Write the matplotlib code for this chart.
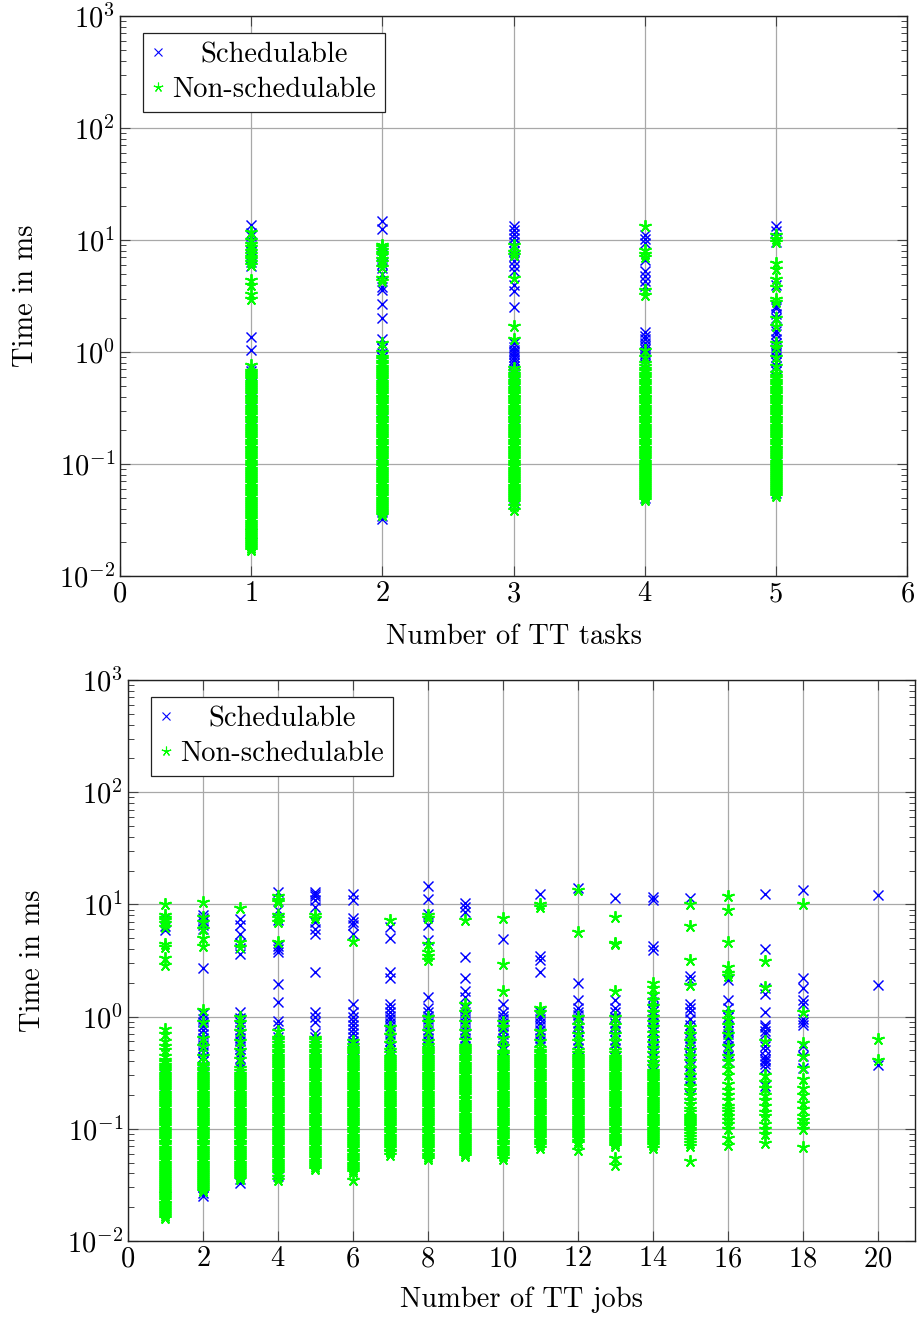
import matplotlib
matplotlib.use("Agg")
import matplotlib.pyplot as plt
from matplotlib.ticker import LogLocator, LogFormatterMathtext, NullFormatter, MultipleLocator
from matplotlib.transforms import Affine2D

plt.rcParams['font.family'] = ['cmr10', 'DejaVu Serif']
plt.rcParams['mathtext.fontset'] = 'cm'
plt.rcParams['axes.formatter.use_mathtext'] = True
plt.rcParams['axes.unicode_minus'] = True

# ---------------- data: top chart (Number of TT tasks) ----------------
top_x = [1, 2, 3, 4, 5]
top_sched = [
    [0.020, 0.022, 0.024, 0.026, 0.028, 0.031, 0.034, 0.045, 0.07, 0.11, 0.17, 0.26, 0.33, 0.38, 0.43, 0.48, 0.52,
     0.57, 0.62, 0.68, 0.72, 1.05, 1.35, 5.9, 6.4, 6.9, 7.3, 7.9, 8.6, 9.4, 10.8, 11.5, 13.6],
    [0.032, 0.034, 0.037, 0.05, 0.08, 0.12, 0.2, 0.3, 0.42, 0.5, 0.56, 0.62, 0.68, 0.75, 0.82, 0.9, 0.97, 1.08,
     1.3, 2.0, 2.7, 3.6, 3.8, 5.0, 5.6, 6.1, 7.0, 7.5, 8.2, 12.5, 14.8],
    [0.045, 0.05, 0.08, 0.15, 0.25, 0.35, 0.45, 0.55, 0.6, 0.65, 0.7, 0.75, 0.8, 0.85, 0.9, 0.95, 1.0, 1.05, 1.1,
     1.2, 2.5, 3.5, 4.0, 5.3, 5.8, 6.5, 7.2, 8.0, 8.8, 9.5, 10.4, 11.2, 12.3, 13.4],
    [0.05, 0.055, 0.1, 0.2, 0.35, 0.5, 0.6, 0.7, 0.78, 0.85, 0.9, 0.95, 1.0, 1.06, 1.12, 1.2, 1.3, 1.4, 1.5, 3.9,
     4.3, 4.8, 5.3, 6.6, 9.4, 10.2, 11.0],
    [0.055, 0.06, 0.1, 0.2, 0.35, 0.5, 0.6, 0.68, 0.75, 0.82, 0.9, 0.97, 1.05, 1.12, 1.2, 1.3, 1.45, 1.55, 2.0,
     2.2, 2.45, 2.6, 4.0, 9.5, 12.0, 13.2],
]
top_nonsched = [
    [0.017, 0.0178, 0.0185, 0.0193, 0.020, 0.0208, 0.0215, 0.0223, 0.023, 0.024, 0.025, 0.026, 0.027, 0.028,
     0.029, 0.0305, 0.032, 0.0335, 0.035, 0.0365, 0.038, 0.0395, 0.041, 0.043, 0.045, 0.047, 0.049, 0.0515, 0.054,
     0.0565, 0.059, 0.0615, 0.064, 0.067, 0.070, 0.073, 0.076, 0.0795, 0.083, 0.087, 0.091, 0.095, 0.10, 0.105,
     0.11, 0.115, 0.12, 0.125, 0.13, 0.135, 0.14, 0.148, 0.155, 0.162, 0.17, 0.178, 0.185, 0.193, 0.2, 0.21, 0.22,
     0.23, 0.24, 0.25, 0.26, 0.272, 0.285, 0.297, 0.31, 0.325, 0.34, 0.355, 0.37, 0.385, 0.40, 0.42, 0.44, 0.46,
     0.48, 0.50, 0.52, 0.545, 0.57, 0.595, 0.62, 0.65, 0.68, 0.77, 2.95, 3.3, 4.0, 4.4, 6.0, 6.4, 6.8, 7.1, 7.5,
     8.0, 8.6, 9.2, 10.1, 11.8],
    [0.035, 0.0365, 0.038, 0.0395, 0.041, 0.043, 0.045, 0.047, 0.049, 0.0515, 0.054, 0.0565, 0.059, 0.0615, 0.064,
     0.067, 0.070, 0.073, 0.076, 0.0795, 0.083, 0.087, 0.091, 0.095, 0.10, 0.105, 0.11, 0.115, 0.12, 0.125, 0.13,
     0.135, 0.14, 0.148, 0.155, 0.162, 0.17, 0.178, 0.185, 0.193, 0.2, 0.21, 0.22, 0.23, 0.24, 0.25, 0.26, 0.272,
     0.285, 0.297, 0.31, 0.325, 0.34, 0.355, 0.37, 0.385, 0.40, 0.42, 0.44, 0.46, 0.48, 0.50, 0.52, 0.545, 0.57,
     0.595, 0.62, 0.65, 0.68, 0.71, 0.74, 0.78, 0.82, 0.86, 0.9, 1.0, 1.2, 4.3, 4.6, 5.7, 6.3, 6.8, 7.3, 7.7, 8.1,
     8.7, 9.1],
    [0.039, 0.042, 0.046, 0.048, 0.05, 0.052, 0.054, 0.0565, 0.059, 0.0615, 0.064, 0.067, 0.070, 0.073, 0.076,
     0.0795, 0.083, 0.087, 0.091, 0.095, 0.10, 0.105, 0.11, 0.115, 0.12, 0.125, 0.13, 0.135, 0.14, 0.148, 0.155,
     0.162, 0.17, 0.178, 0.185, 0.193, 0.2, 0.21, 0.22, 0.23, 0.24, 0.25, 0.26, 0.272, 0.285, 0.297, 0.31, 0.325,
     0.34, 0.355, 0.37, 0.385, 0.40, 0.42, 0.44, 0.46, 0.48, 0.505, 0.53, 0.555, 0.58, 0.61, 0.64, 0.68, 0.72, 1.3,
     1.7, 4.6, 7.4, 7.8, 9.0],
    [0.048, 0.050, 0.052, 0.054, 0.056, 0.0585, 0.061, 0.0635, 0.066, 0.069, 0.072, 0.075, 0.078, 0.0815, 0.085,
     0.0885, 0.092, 0.096, 0.10, 0.105, 0.11, 0.115, 0.12, 0.125, 0.13, 0.135, 0.14, 0.148, 0.155, 0.162, 0.17,
     0.178, 0.185, 0.193, 0.2, 0.21, 0.22, 0.23, 0.24, 0.25, 0.26, 0.272, 0.285, 0.297, 0.31, 0.325, 0.34, 0.355,
     0.37, 0.385, 0.40, 0.42, 0.44, 0.46, 0.48, 0.505, 0.53, 0.555, 0.58, 0.61, 0.64, 0.675, 0.71, 0.75, 0.8, 0.9,
     1.05, 3.2, 3.6, 7.0, 7.5, 8.1, 13.2],
    [0.052, 0.054, 0.056, 0.0585, 0.061, 0.0635, 0.066, 0.069, 0.072, 0.075, 0.078, 0.0815, 0.085, 0.0885, 0.092,
     0.096, 0.10, 0.105, 0.11, 0.115, 0.12, 0.125, 0.13, 0.135, 0.14, 0.148, 0.155, 0.162, 0.17, 0.178, 0.185,
     0.193, 0.2, 0.21, 0.22, 0.23, 0.24, 0.25, 0.26, 0.272, 0.285, 0.297, 0.31, 0.325, 0.34, 0.355, 0.37, 0.385,
     0.40, 0.42, 0.44, 0.46, 0.48, 0.505, 0.53, 0.555, 0.58, 0.615, 0.65, 0.75, 0.9, 1.1, 1.2, 1.7, 2.0, 2.8, 3.0,
     3.8, 4.5, 5.5, 6.2, 9.5, 10.2, 11.0],
]

# ---------------- data: bottom chart (Number of TT jobs) ----------------
bot_x = [1, 2, 3, 4, 5, 6, 7, 8, 9, 10, 11, 12, 13, 14, 15, 16, 17, 18, 20]
bot_sched = [
    [0.024, 0.026, 0.028, 0.031, 0.034, 0.2, 0.3, 5.9, 6.4, 7.0, 7.6],
    [0.025, 0.027, 0.030, 0.36, 0.40, 0.44, 0.48, 0.52, 0.56, 0.60, 0.65, 0.70, 0.76, 0.82, 0.90, 0.96, 1.05, 2.7,
     6.0, 6.6, 7.1, 7.6, 8.1],
    [0.033, 0.036, 0.040, 0.35, 0.39, 0.43, 0.47, 0.51, 0.55, 0.60, 0.65, 0.70, 0.76, 0.82, 0.90, 0.98, 1.1, 3.6,
     4.1, 4.5, 5.5, 6.5, 7.4],
    [0.038, 0.041, 0.045, 0.30, 0.33, 0.37, 0.41, 0.45, 0.5, 0.55, 0.6, 0.66, 0.72, 0.85, 0.92, 1.35, 1.95, 3.8,
     4.0, 4.3, 7.3, 9.0, 13.0],
    [0.30, 0.35, 0.40, 0.45, 0.50, 0.55, 0.60, 0.66, 0.72, 0.9, 1.0, 1.1, 2.5, 5.5, 6.0, 7.0, 9.5, 11.0, 12.0,
     12.5, 13.0],
    [0.35, 0.39, 0.43, 0.47, 0.51, 0.56, 0.61, 0.66, 0.72, 0.78, 0.85, 0.92, 1.0, 1.1, 1.3, 5.5, 6.5, 7.0, 7.5,
     11.0, 12.5],
    [0.45, 0.5, 0.55, 0.6, 0.65, 0.7, 0.76, 0.82, 0.88, 0.95, 1.02, 1.1, 1.2, 1.3, 2.2, 2.5, 5.0, 6.3],
    [0.5, 0.55, 0.6, 0.65, 0.7, 0.76, 0.82, 0.88, 0.95, 1.02, 1.1, 1.2, 1.5, 4.8, 6.5, 8.2, 11.2, 14.6],
    [0.5, 0.55, 0.6, 0.65, 0.7, 0.76, 0.82, 0.88, 0.95, 1.02, 1.1, 1.2, 1.5, 1.7, 2.2, 3.4, 8.5, 9.5, 10.2],
    [0.5, 0.55, 0.6, 0.65, 0.7, 0.76, 0.82, 0.88, 0.95, 1.02, 1.1, 1.3, 4.9],
    [0.42, 0.46, 0.5, 0.55, 0.6, 0.65, 0.7, 0.76, 0.82, 0.88, 0.95, 1.02, 1.1, 2.5, 3.2, 3.5, 12.3],
    [0.4, 0.44, 0.48, 0.52, 0.57, 0.62, 0.68, 0.74, 0.8, 0.87, 0.95, 1.03, 1.1, 1.2, 1.4, 2.0, 14.0],
    [0.4, 0.44, 0.48, 0.52, 0.57, 0.62, 0.68, 0.74, 0.8, 0.87, 0.95, 1.0, 1.1, 1.2, 1.4, 11.5],
    [0.3, 0.33, 0.36, 0.4, 0.44, 0.48, 0.52, 0.57, 0.62, 0.68, 0.74, 0.8, 0.87, 0.95, 1.03, 1.12, 1.22, 1.35, 1.5,
     3.9, 4.3, 11.0, 11.6],
    [0.2, 0.24, 0.28, 0.32, 0.36, 0.4, 0.45, 0.5, 0.55, 0.6, 0.65, 0.7, 0.78, 0.85, 0.95, 1.1, 1.2, 1.3, 2.1, 2.3,
     11.4],
    [0.4, 0.45, 0.5, 0.55, 0.6, 0.65, 0.7, 0.75, 0.8, 0.9, 1.0, 1.2, 1.4, 2.1],
    [0.24, 0.35, 0.38, 0.4, 0.42, 0.45, 0.5, 0.55, 0.7, 0.75, 0.8, 0.85, 1.1, 1.6, 1.8, 4.0, 12.5],
    [0.35, 0.45, 0.55, 0.85, 0.9, 0.95, 1.3, 1.4, 1.8, 2.2, 13.5],
    [0.37, 1.9, 12.2],
]
bot_nonsched = [
    [0.016, 0.0168, 0.0175, 0.0183, 0.019, 0.0198, 0.0205, 0.0213, 0.022, 0.023, 0.024, 0.025, 0.026, 0.027, 0.028,
     0.029, 0.030, 0.0315, 0.033, 0.0345, 0.036, 0.0375, 0.039, 0.0405, 0.042, 0.044, 0.046, 0.048, 0.050, 0.0525,
     0.055, 0.0575, 0.060, 0.0625, 0.065, 0.068, 0.071, 0.074, 0.077, 0.0805, 0.084, 0.088, 0.092, 0.096, 0.10,
     0.105, 0.11, 0.115, 0.12, 0.125, 0.13, 0.135, 0.14, 0.148, 0.155, 0.162, 0.17, 0.178, 0.185, 0.193, 0.2, 0.21,
     0.22, 0.23, 0.24, 0.25, 0.26, 0.272, 0.285, 0.297, 0.31, 0.325, 0.34, 0.355, 0.37, 0.39, 0.41, 0.45, 0.5,
     0.55, 0.6, 0.7, 0.78, 2.9, 3.3, 4.2, 4.4, 6.3, 6.8, 7.2, 7.5, 8.0, 10.0],
    [0.028, 0.029, 0.030, 0.0315, 0.033, 0.0345, 0.036, 0.0375, 0.039, 0.0405, 0.042, 0.044, 0.046, 0.048, 0.050,
     0.0525, 0.055, 0.0575, 0.060, 0.0625, 0.065, 0.068, 0.071, 0.074, 0.077, 0.0805, 0.084, 0.088, 0.092, 0.096,
     0.10, 0.105, 0.11, 0.115, 0.12, 0.125, 0.13, 0.135, 0.14, 0.148, 0.155, 0.162, 0.17, 0.178, 0.185, 0.193,
     0.2, 0.21, 0.22, 0.23, 0.24, 0.25, 0.26, 0.272, 0.285, 0.297, 0.31, 0.325, 0.34, 0.36, 0.38, 0.45, 0.55,
     0.65, 0.9, 1.15, 4.3, 5.0, 6.0, 7.0, 7.8, 10.5],
    [0.036, 0.0375, 0.039, 0.0405, 0.042, 0.044, 0.046, 0.048, 0.050, 0.0525, 0.055, 0.0575, 0.060, 0.0625, 0.065,
     0.068, 0.071, 0.074, 0.077, 0.0805, 0.084, 0.088, 0.092, 0.096, 0.10, 0.105, 0.11, 0.115, 0.12, 0.125, 0.13,
     0.135, 0.14, 0.148, 0.155, 0.162, 0.17, 0.178, 0.185, 0.193, 0.2, 0.21, 0.22, 0.23, 0.24, 0.25, 0.26, 0.272,
     0.285, 0.297, 0.31, 0.33, 0.35, 0.42, 0.5, 0.6, 0.75, 0.9, 1.0, 4.2, 4.6, 9.2],
    [0.035, 0.0375, 0.04, 0.042, 0.044, 0.046, 0.048, 0.050, 0.052, 0.0545, 0.057, 0.0595, 0.062, 0.065, 0.068,
     0.071, 0.074, 0.0775, 0.081, 0.0845, 0.088, 0.092, 0.096, 0.1, 0.105, 0.11, 0.115, 0.12, 0.125, 0.131, 0.137,
     0.143, 0.15, 0.157, 0.163, 0.17, 0.178, 0.186, 0.195, 0.204, 0.213, 0.222, 0.232, 0.243, 0.253, 0.265, 0.276,
     0.288, 0.301, 0.315, 0.33, 0.345, 0.36, 0.375, 0.39, 0.41, 0.43, 0.45, 0.47, 0.495, 0.52, 0.55, 0.58, 0.615,
     0.65, 0.75, 4.6, 7.0, 7.5, 8.0, 10.5, 11.0, 12.0],
    [0.044, 0.046, 0.048, 0.050, 0.052, 0.0545, 0.057, 0.0595, 0.062, 0.065, 0.068, 0.071, 0.074, 0.0775, 0.081,
     0.0845, 0.088, 0.092, 0.096, 0.1, 0.105, 0.11, 0.115, 0.12, 0.125, 0.131, 0.137, 0.143, 0.15, 0.157, 0.163,
     0.17, 0.178, 0.186, 0.195, 0.204, 0.213, 0.222, 0.232, 0.243, 0.253, 0.265, 0.276, 0.288, 0.301, 0.315, 0.33,
     0.345, 0.36, 0.375, 0.39, 0.41, 0.43, 0.45, 0.47, 0.495, 0.52, 0.55, 0.58, 0.615, 0.65, 7.5, 8.0],
    [0.035, 0.041, 0.043, 0.045, 0.047, 0.049, 0.0515, 0.054, 0.0565, 0.059, 0.0615, 0.064, 0.067, 0.070, 0.073,
     0.076, 0.0795, 0.083, 0.087, 0.091, 0.095, 0.10, 0.105, 0.11, 0.115, 0.12, 0.125, 0.13, 0.135, 0.14, 0.148,
     0.155, 0.162, 0.17, 0.178, 0.185, 0.193, 0.2, 0.21, 0.22, 0.23, 0.24, 0.25, 0.26, 0.272, 0.285, 0.297, 0.31,
     0.325, 0.34, 0.355, 0.37, 0.385, 0.40, 0.42, 0.44, 0.46, 0.48, 0.505, 0.53, 0.56, 0.6, 4.7],
    [0.059, 0.0615, 0.064, 0.067, 0.070, 0.073, 0.076, 0.0795, 0.083, 0.087, 0.091, 0.095, 0.10, 0.105, 0.11,
     0.115, 0.12, 0.125, 0.13, 0.135, 0.14, 0.148, 0.155, 0.162, 0.17, 0.178, 0.185, 0.193, 0.2, 0.21, 0.22, 0.23,
     0.24, 0.25, 0.26, 0.272, 0.285, 0.297, 0.31, 0.325, 0.34, 0.355, 0.37, 0.385, 0.40, 0.42, 0.44, 0.47, 0.5,
     0.58, 0.68, 0.8, 7.2],
    [0.054, 0.0565, 0.059, 0.0615, 0.064, 0.067, 0.070, 0.073, 0.076, 0.0795, 0.083, 0.087, 0.091, 0.095, 0.10,
     0.105, 0.11, 0.115, 0.12, 0.125, 0.13, 0.135, 0.14, 0.148, 0.155, 0.162, 0.17, 0.178, 0.185, 0.193, 0.2, 0.21,
     0.22, 0.23, 0.24, 0.25, 0.26, 0.272, 0.285, 0.297, 0.31, 0.325, 0.34, 0.355, 0.37, 0.385, 0.40, 0.42, 0.44,
     0.46, 0.48, 0.505, 0.53, 0.56, 0.6, 0.75, 0.9, 1.0, 3.2, 3.5, 3.8, 4.4, 7.5, 8.0],
    [0.057, 0.0595, 0.062, 0.0645, 0.067, 0.070, 0.073, 0.0765, 0.08, 0.0835, 0.087, 0.091, 0.095, 0.0995, 0.104,
     0.1085, 0.113, 0.118, 0.123, 0.1285, 0.134, 0.14, 0.146, 0.153, 0.16, 0.1675, 0.175, 0.1825, 0.19, 0.1985,
     0.207, 0.2165, 0.226, 0.236, 0.246, 0.257, 0.268, 0.279, 0.29, 0.305, 0.32, 0.335, 0.35, 0.365, 0.38, 0.4,
     0.42, 0.44, 0.46, 0.48, 0.5, 0.525, 0.55, 0.62, 0.75, 0.9, 1.1, 1.3, 7.3],
    [0.054, 0.057, 0.06, 0.0625, 0.065, 0.068, 0.071, 0.074, 0.077, 0.0805, 0.084, 0.088, 0.092, 0.096, 0.10,
     0.105, 0.11, 0.115, 0.12, 0.125, 0.13, 0.135, 0.14, 0.148, 0.155, 0.162, 0.17, 0.178, 0.185, 0.193, 0.2, 0.21,
     0.22, 0.23, 0.24, 0.25, 0.26, 0.272, 0.285, 0.297, 0.31, 0.325, 0.34, 0.355, 0.37, 0.385, 0.40, 0.42, 0.44,
     0.46, 0.48, 0.55, 0.65, 0.8, 0.9, 1.7, 2.95, 7.5],
    [0.068, 0.0715, 0.075, 0.0785, 0.082, 0.0855, 0.089, 0.093, 0.097, 0.1015, 0.106, 0.111, 0.116, 0.121, 0.126,
     0.1315, 0.137, 0.1435, 0.15, 0.1565, 0.163, 0.1705, 0.178, 0.1865, 0.195, 0.204, 0.213, 0.2225, 0.232, 0.2425,
     0.253, 0.2645, 0.276, 0.2885, 0.301, 0.315, 0.33, 0.345, 0.36, 0.375, 0.39, 0.41, 0.43, 0.45, 0.47, 0.495,
     0.52, 0.6, 0.75, 1.1, 1.2, 9.5, 10.0],
    [0.065, 0.075, 0.0785, 0.082, 0.0855, 0.089, 0.093, 0.097, 0.1015, 0.106, 0.111, 0.116, 0.121, 0.126, 0.1315,
     0.137, 0.1435, 0.15, 0.1565, 0.163, 0.1705, 0.178, 0.1865, 0.195, 0.204, 0.213, 0.2225, 0.232, 0.2425, 0.253,
     0.2645, 0.276, 0.2885, 0.301, 0.315, 0.33, 0.345, 0.36, 0.375, 0.39, 0.41, 0.43, 0.45, 0.47, 0.5, 0.6, 0.7,
     0.85, 1.0, 5.7, 13.5],
    [0.048, 0.055, 0.07, 0.073, 0.076, 0.0795, 0.083, 0.087, 0.091, 0.095, 0.10, 0.105, 0.11, 0.115, 0.12, 0.125,
     0.13, 0.135, 0.14, 0.148, 0.155, 0.162, 0.17, 0.178, 0.185, 0.193, 0.2, 0.21, 0.22, 0.23, 0.24, 0.25, 0.26,
     0.272, 0.285, 0.297, 0.31, 0.325, 0.34, 0.355, 0.37, 0.385, 0.40, 0.42, 0.44, 0.47, 0.5, 0.6, 0.7, 0.85, 1.0,
     1.7, 4.4, 4.5, 7.8],
    [0.068, 0.071, 0.074, 0.0775, 0.081, 0.0845, 0.088, 0.092, 0.096, 0.1, 0.105, 0.11, 0.115, 0.12, 0.125, 0.131,
     0.137, 0.143, 0.15, 0.157, 0.163, 0.17, 0.178, 0.186, 0.195, 0.204, 0.213, 0.222, 0.232, 0.243, 0.253, 0.265,
     0.276, 0.288, 0.301, 0.315, 0.33, 0.36, 0.39, 0.43, 0.47, 0.52, 0.58, 0.65, 0.72, 0.8, 0.9, 1.0, 1.1, 1.25,
     1.4, 1.6, 1.8, 2.0],
    [0.052, 0.07, 0.075, 0.08, 0.085, 0.09, 0.095, 0.1, 0.105, 0.11, 0.115, 0.12, 0.125, 0.13, 0.14, 0.15, 0.165,
     0.18, 0.2, 0.22, 0.24, 0.27, 0.3, 0.35, 0.4, 0.45, 0.5, 0.6, 0.7, 0.8, 1.9, 3.2, 6.4, 10.0],
    [0.071, 0.083, 0.1, 0.11, 0.12, 0.13, 0.14, 0.15, 0.16, 0.18, 0.2, 0.22, 0.25, 0.3, 0.35, 0.4, 0.45, 0.55, 0.7,
     0.85, 0.95, 1.1, 2.3, 2.45, 2.75, 4.6, 9.0, 12.0],
    [0.075, 0.09, 0.1, 0.11, 0.13, 0.14, 0.16, 0.18, 0.2, 0.23, 0.26, 0.3, 0.6, 1.85, 3.1],
    [0.069, 0.1, 0.11, 0.12, 0.13, 0.15, 0.17, 0.2, 0.23, 0.28, 0.35, 0.45, 0.58, 1.1, 10.0],
    [0.41, 0.63],
]

series_labels = ["Schedulable", "Non-schedulable"]
top_xlabel = "Number of TT tasks"
bot_xlabel = "Number of TT jobs"
ylabel = "Time in ms"

# ---------------- styling ----------------
W, H = 918, 1321
FS = 20.5
BLUE = (0, 0, 1)
GREEN = (0, 1, 0)
STAR = (5, 2, 0)


def flatten(xs, cols):
    fx, fy = [], []
    for x, col in zip(xs, cols):
        for v in col:
            fx.append(x)
            fy.append(v)
    return fx, fy


def style_axes(ax):
    ax.set_yscale('log')
    ax.set_ylim(1e-2, 1e3)
    ax.yaxis.set_major_locator(LogLocator(base=10, numticks=10))
    ax.yaxis.set_minor_locator(LogLocator(base=10, subs=range(2, 10), numticks=50))
    ax.yaxis.set_major_formatter(LogFormatterMathtext())
    ax.yaxis.set_minor_formatter(NullFormatter())
    ax.grid(True, which='major', color='#a8a8a8', linewidth=0.9)
    ax.set_axisbelow(True)
    ax.tick_params(which='both', direction='in', top=True, right=True, labelsize=FS, color='#444444')
    ax.tick_params(which='major', length=7.5, width=0.8)
    ax.tick_params(which='minor', length=4.2, width=0.7)
    ax.tick_params(axis='x', which='minor', length=0)
    for s in ax.spines.values():
        s.set_linewidth(1.0)
        s.set_color('#222222')
    ax.set_ylabel(ylabel, fontsize=FS, labelpad=6)


def draw(ax, xs, sched, nonsched):
    sx, sy = flatten(xs, sched)
    nx, ny = flatten(xs, nonsched)
    ax.plot(sx, sy, linestyle='none', marker='x', color=BLUE, ms=6.6, mew=1.05,
            label=series_labels[0], zorder=3)
    ax.plot(nx, ny, linestyle='none', marker=STAR, color=GREEN, ms=9.0, mew=1.35,
            label=series_labels[1], zorder=4)
    leg = ax.legend(loc='upper left', bbox_to_anchor=(0.029, 0.97), fontsize=FS, numpoints=1,
                    handlelength=0.45, handletextpad=0.25, borderpad=0.32, labelspacing=0.3,
                    borderaxespad=0.0, fancybox=False, framealpha=1, edgecolor='#222222')
    leg.get_frame().set_linewidth(0.9)
    for h in leg.legend_handles:
        h.set_markersize(5.5 if h.get_marker() == 'x' else 7.0)
        h.set_markeredgewidth(0.8)
    return leg


fig = plt.figure(figsize=(W / 100, H / 100), dpi=100)
ax1 = fig.add_axes([120 / W, (H - 576) / H, 787 / W, 560 / H])
ax2 = fig.add_axes([128 / W, (H - 1241) / H, 787 / W, 561 / H])

style_axes(ax1)
style_axes(ax2)
leg1 = draw(ax1, top_x, top_sched, top_nonsched)
leg2 = draw(ax2, bot_x, bot_sched, bot_nonsched)

ax1.set_xlim(0, 6)
ax1.xaxis.set_major_locator(MultipleLocator(1))
ax1.set_xlabel(top_xlabel, fontsize=FS, labelpad=12)

ax2.set_xlim(0, 21)
ax2.xaxis.set_major_locator(MultipleLocator(2))
ax2.set_xlabel(bot_xlabel, fontsize=FS, labelpad=10)

ax1.yaxis.set_label_coords(-0.103, 0.5)
ax2.yaxis.set_label_coords(-0.104, 0.5)

# centre the legend labels in their column (pgfplots style)
fig.canvas.draw()
r = fig.canvas.get_renderer()
for leg in (leg1, leg2):
    texts = leg.get_texts()
    widths = [t.get_window_extent(r).width for t in texts]
    wmax = max(widths)
    for t, w in zip(texts, widths):
        dx = (wmax - w) / 2.0
        if dx > 0:
            t.set_transform(t.get_transform() + Affine2D().translate(dx, 0))

fig.savefig("out.png", dpi=100)
